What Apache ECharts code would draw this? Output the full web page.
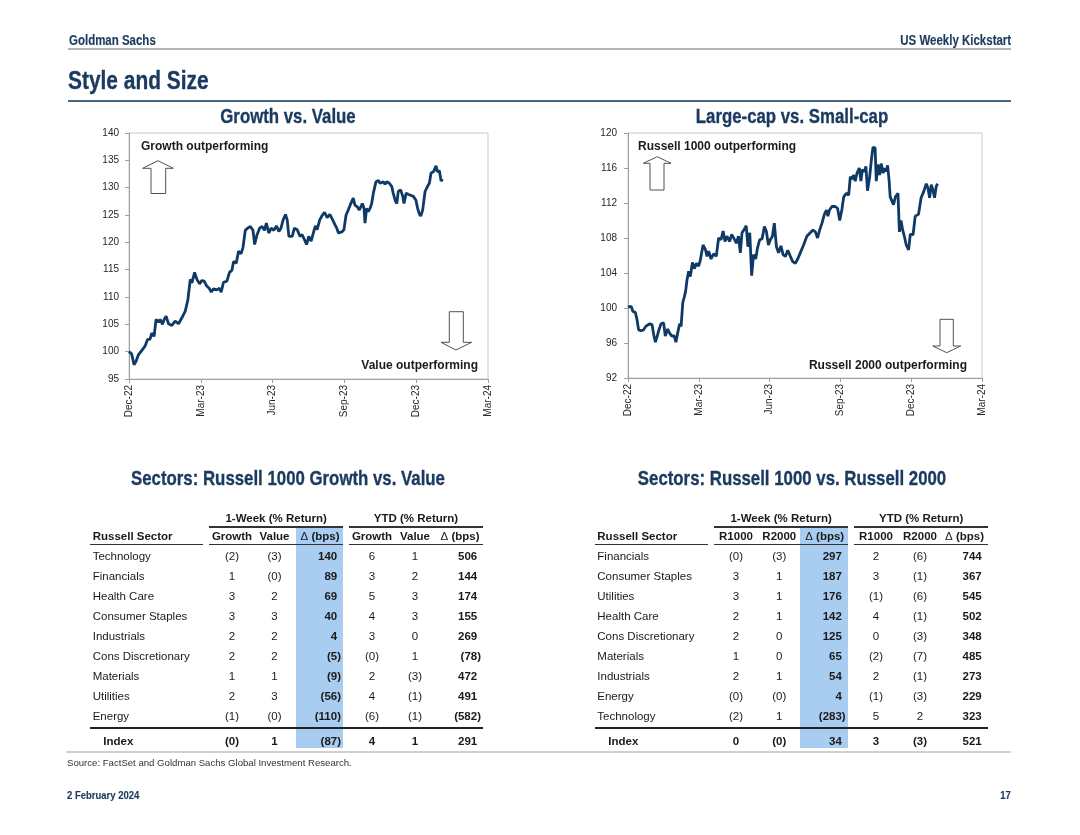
<!DOCTYPE html>
<html>
<head>
<meta charset="utf-8">
<script src="https://cdn.jsdelivr.net/npm/echarts@6/dist/echarts.min.js"></script>
<style>
  html, body { margin:0; padding:0; background:#fff; }
  #page { position:relative; width:1080px; height:835px; overflow:hidden; background:#fff; }
  #chart { position:absolute; left:0; top:0; width:1080px; height:835px; }
  .t { position:absolute; white-space:nowrap; line-height:1.15; font-family:"Liberation Sans", Arial, sans-serif; color:#1a1a1a; }
  .narrow { font-family:"Liberation Sans", Arial, sans-serif; font-weight:bold; color:#1b3a5f; -webkit-text-stroke:0.35px #1b3a5f; }
  .narrow.small { -webkit-text-stroke:0.15px #1b3a5f; }
  .hl { position:absolute; }
</style>
</head>
<body>
<div id="page">
  <div id="chart"></div>
  <div id="overlay"></div>
</div>
<script>
// ---------------- DATA ----------------
const xTickLabels = ['Dec-22','Mar-23','Jun-23','Sep-23','Dec-23','Mar-24'];

// Growth vs. Value : x = months after the Dec-22 tick, y = index level
const gvMonths = [0.00,0.11,0.21,0.29,0.39,0.53,0.67,0.77,0.88,0.95,1.05,1.13,1.23,1.30,1.40,1.47,1.55,1.65,1.79,1.93,
  2.07,2.21,2.35,2.46,2.56,2.63,2.74,2.84,2.95,3.04,3.14,3.25,3.35,3.44,3.53,3.67,3.78,3.85,3.95,4.09,
  4.20,4.30,4.37,4.48,4.58,4.68,4.76,4.86,4.96,5.07,5.18,5.25,5.35,5.46,5.56,5.66,5.74,5.84,5.94,6.05,
  6.16,6.26,6.35,6.44,6.54,6.61,6.68,6.82,6.91,7.03,7.14,7.23,7.33,7.42,7.51,7.61,7.72,7.79,7.86,7.97,
  8.07,8.17,8.28,8.39,8.51,8.61,8.68,8.75,8.89,8.98,9.07,9.16,9.24,9.31,9.37,9.44,9.54,9.62,9.68,9.75,
  9.82,9.86,9.93,10.00,10.07,10.14,10.21,10.32,10.42,10.49,10.56,10.63,10.70,10.77,10.88,10.98,11.04,11.12,11.19,11.25,
  11.35,11.44,11.49,11.58,11.71,11.88,11.99,12.06,12.13,12.19,12.27,12.37,12.47,12.55,12.62,12.72,12.83,12.88,12.97,13.04,13.10];
const gvLevels = [100,99.6,97.6,98.2,99.4,100.2,101,102.2,102.3,103.4,102.8,105.9,105.4,105.9,105,105.9,106.5,105.1,104.8,105.6,
  105.1,106.2,107.4,109.5,113.2,112.6,114.5,113.2,112.4,113,112.9,112,111.6,110.9,111.5,111.3,111.6,110.9,112.7,112.9,
  114.5,114.9,116.5,116.2,118.4,117.9,119,122.2,122.6,122.9,122.2,119.6,121.4,122.6,122.9,122.2,123.5,121.7,122.6,122.2,
  123,122,122.6,124.1,125.1,124.1,121.1,121.1,122.6,122.3,121.1,121.4,120.5,119.6,121.1,120.2,122,123,122.3,124.1,
  124.9,125.5,124.5,125.1,124.1,123.2,122.6,121.7,121.9,122.3,125,125.9,126.8,126.5,128.1,126.8,126.5,125.9,126.2,127.1,
  126.2,123.5,126.2,125.6,126.2,127.1,129,131.1,131.3,130.8,130.5,131.1,130.6,131.1,130.8,130.2,129,127.7,127.1,129.3,
  129.6,128.4,127.1,129,128.7,128.4,127.7,126.2,125.2,124.8,125.9,129.3,130.2,130.8,132.7,132.9,134,132.9,133.1,131.2,131.6];

// Large-cap vs. Small-cap
const lsMonths = [0.00,0.13,0.21,0.31,0.38,0.45,0.55,0.66,0.75,0.83,0.92,1.02,1.09,1.16,1.23,1.31,1.40,1.51,1.58,1.68,
  1.77,1.86,1.96,2.03,2.10,2.19,2.25,2.32,2.39,2.44,2.50,2.57,2.64,2.73,2.81,2.90,2.99,3.06,3.18,3.28,
  3.35,3.42,3.52,3.63,3.74,3.84,3.94,4.03,4.11,4.19,4.31,4.39,4.48,4.59,4.68,4.76,4.83,4.93,5.01,5.08,
  5.16,5.24,5.32,5.41,5.49,5.58,5.68,5.78,5.86,5.95,6.03,6.12,6.20,6.29,6.38,6.48,6.57,6.67,6.77,6.88,
  6.98,7.09,7.19,7.30,7.44,7.58,7.72,7.84,7.94,8.03,8.12,8.22,8.32,8.41,8.47,8.54,8.64,8.78,8.88,8.97,
  9.06,9.14,9.25,9.35,9.42,9.49,9.56,9.63,9.70,9.80,9.87,9.93,10.03,10.08,10.15,10.24,10.32,10.38,10.47,10.52,
  10.59,10.66,10.73,10.81,10.87,10.94,11.00,11.06,11.11,11.19,11.25,11.33,11.40,11.44,11.50,11.57,11.64,11.71,11.79,11.89,
  11.96,12.08,12.17,12.25,12.31,12.42,12.53,12.64,12.71,12.78,12.85,12.92,12.99,13.06,13.12];
const lsLevels = [100.1,100.2,99.6,99.5,98.7,97.5,97.4,97.5,97.9,97.8,98.2,98.1,96.95,96.1,96.7,97.5,98.2,98.3,96.8,97.6,
  97.1,96.8,96.8,96.1,97.1,98.2,97.9,100.6,101.3,101.9,103.2,104.2,103.6,105.2,104.5,105.1,104.8,105.4,107.2,106.7,
  105.9,106.5,105.6,106.2,105.9,108,107.8,108.8,107.6,108.2,107.6,108.4,108,107.4,108.2,106.3,108.6,109,109.4,107,
  108.6,103.7,106.1,105.6,106.9,107.8,107.9,109.3,108.8,107.2,107.8,108.2,109.7,107,106.3,107.1,106.1,105.9,106.6,105.9,
  105.3,105.1,105.6,106.3,107.2,108.2,108.6,108.9,108.7,108,108.9,109.7,110.7,111.2,110.5,111.2,111.6,111.6,111.4,110,
  111.2,112.7,113.1,112.9,115,114.7,115.2,114.5,115.4,116,114.5,115.8,115.6,116.2,113.4,115,117.1,118.35,118.3,114.5,
  116.4,115.2,116.5,115.4,116,115.6,116.3,114.7,112.7,112.9,111.8,112.7,112.6,113.1,108.7,110,108.9,108.2,107.2,106.65,
  108.4,108.4,110.5,110.3,110.7,112.6,113.3,114.2,113.7,112.6,114.1,113.5,112.6,113.9,114.2];

// Sector table 1: Russell 1000 Growth vs. Value  (-0 shown as "(0)")
const gvSectors   = ['Technology','Financials','Health Care','Consumer Staples','Industrials','Cons Discretionary','Materials','Utilities','Energy'];
const gvWkGrowth  = [-2, 1, 3, 3, 2, 2, 1, 2, -1];
const gvWkValue   = [-3, -0, 2, 3, 2, 2, 1, 3, -0];
const gvWkDelta   = [140, 89, 69, 40, 4, -5, -9, -56, -110];
const gvYtdGrowth = [6, 3, 5, 4, 3, -0, 2, 4, -6];
const gvYtdValue  = [1, 2, 3, 3, 0, 1, -3, -1, -1];
const gvYtdDelta  = [506, 144, 174, 155, 269, -78, 472, 491, -582];
const gvIndex     = [-0, 1, -87, 4, 1, 291];

// Sector table 2: Russell 1000 vs. Russell 2000
const lsSectors   = ['Financials','Consumer Staples','Utilities','Health Care','Cons Discretionary','Materials','Industrials','Energy','Technology'];
const lsWkR1000   = [-0, 3, 3, 2, 2, 1, 2, -0, -2];
const lsWkR2000   = [-3, 1, 1, 1, 0, 0, 1, -0, 1];
const lsWkDelta   = [297, 187, 176, 142, 125, 65, 54, 4, -283];
const lsYtdR1000  = [2, 3, -1, 4, 0, -2, 2, -1, 5];
const lsYtdR2000  = [-6, -1, -6, -1, -3, -7, -1, -3, 2];
const lsYtdDelta  = [744, 367, 545, 502, 348, 485, 273, 229, 323];
const lsIndex     = [0, -0, 34, 3, -3, 521];

// ---------------- TEXT HELPERS ----------------
const ov = document.getElementById('overlay');
function txt(s, x, y, o) {
  o = o || {};
  const d = document.createElement('div');
  d.className = 't' + (o.cls ? ' ' + o.cls : '');
  d.innerHTML = s;
  d.style.top = y + 'px';
  let tx = '0', origin = '0% 50%';
  if (o.align === 'center') { d.style.left = x + 'px'; tx = '-50%'; origin = '50% 50%'; }
  else if (o.align === 'right') { d.style.right = (1080 - x) + 'px'; origin = '100% 50%'; }
  else { d.style.left = x + 'px'; }
  const sx = (o.cls || '').indexOf('narrow') >= 0 ? ' scaleX(0.82)' : '';
  d.style.transformOrigin = origin;
  d.style.transform = 'translate(' + tx + ',-50%)' + sx;
  if (o.size) d.style.fontSize = o.size + 'px';
  if (o.bold) d.style.fontWeight = 'bold';
  if (o.color) d.style.color = o.color;
  if (o.pr) d.style.paddingRight = o.pr;
  ov.appendChild(d);
  return d;
}
function rect(x1, y1, x2, y2, color) {
  const d = document.createElement('div');
  d.className = 'hl';
  d.style.left = x1 + 'px'; d.style.top = y1 + 'px';
  d.style.width = (x2 - x1) + 'px'; d.style.height = (y2 - y1) + 'px';
  d.style.background = color;
  ov.appendChild(d);
}
function fmt(v) { return (v < 0 || Object.is(v, -0)) ? '(' + Math.abs(v) + ')' : String(v); }
function isNeg(v) { return v < 0 || Object.is(v, -0); }

// ---------------- PAGE TEXT ----------------
txt('Goldman Sachs', 69, 40, {cls:'narrow small', size:14});
txt('US Weekly Kickstart', 1011, 40, {cls:'narrow small', size:14, align:'right'});
rect(68, 48, 1011, 50, '#b4b4b4');
txt('Style and Size', 68, 81, {cls:'narrow', size:25.5});
rect(68, 100, 1011, 101.5, '#4a6584');
txt('Growth vs. Value', 288, 116, {cls:'narrow', size:20.5, align:'center'});
txt('Large-cap vs. Small-cap', 792, 116, {cls:'narrow', size:20.5, align:'center'});

txt('Growth outperforming', 141, 147, {size:12, bold:true});
txt('Value outperforming', 478, 365.5, {size:12, bold:true, align:'right'});
txt('Russell 1000 outperforming', 638, 147, {size:12, bold:true});
txt('Russell 2000 outperforming', 967, 365.5, {size:12, bold:true, align:'right'});

txt('Sectors: Russell 1000 Growth vs. Value', 288, 478, {cls:'narrow', size:20.5, align:'center'});
txt('Sectors: Russell 1000 vs. Russell 2000', 792, 478, {cls:'narrow', size:20.5, align:'center'});

txt('Source: FactSet and Goldman Sachs Global Investment Research.', 67, 762.5, {size:9.6, color:'#333'});
txt('2 February 2024', 67, 795, {cls:'narrow small', size:11.6});
txt('17', 1011, 795, {cls:'narrow small', size:11.6, align:'right'});
rect(66, 751, 1011, 752.5, '#d0d0d0');

// ---------------- TABLES ----------------
function drawTable(T) {
  const L = T.layout;
  rect(L.hl[0], 526.7, L.hl[1], 748.3, '#a9cdf0');
  txt('1-Week (% Return)', (L.g1[0] + L.g1[1]) / 2, 519.3, {size:11.5, bold:true, align:'center'});
  txt('YTD (% Return)', (L.g2[0] + L.g2[1]) / 2, 519.3, {size:11.5, bold:true, align:'center'});
  rect(L.g1[0], 526, L.g1[1], 527.6, '#333');
  rect(L.g2[0], 526, L.g2[1], 527.6, '#333');
  rect(L.s[0], 543.6, L.s[1], 545.2, '#333');
  rect(L.g1[0], 543.6, L.g1[1], 545.2, '#333');
  rect(L.g2[0], 543.6, L.g2[1], 545.2, '#333');
  rect(L.s[0], 727.3, L.g2[1], 729.5, '#222');
  txt('Russell Sector', L.lab, 537.3, {size:11.5, bold:true});
  txt(T.heads[0], L.c[0], 537.3, {size:11.5, bold:true, align:'center'});
  txt(T.heads[1], L.c[1], 537.3, {size:11.5, bold:true, align:'center'});
  txt('<span style="font-weight:normal">&#916;</span> (bps)', L.d[0] - 1.5, 537.3, {size:11.5, bold:true, align:'right'});
  txt(T.heads[0], L.c[2], 537.3, {size:11.5, bold:true, align:'center'});
  txt(T.heads[1], L.c[3], 537.3, {size:11.5, bold:true, align:'center'});
  txt('<span style="font-weight:normal">&#916;</span> (bps)', L.d[1] - 1.5, 537.3, {size:11.5, bold:true, align:'right'});
  function valueRow(y, vals, allBold) {
    const cols = [[L.c[0],'c'],[L.c[1],'c'],[L.d[0],'r'],[L.c[2],'c'],[L.c[3],'c'],[L.d[1],'r']];
    vals.forEach((v, j) => {
      const [x, a] = cols[j];
      const bold = allBold || a === 'r';
      if (a === 'c') txt(fmt(v), x, y, {size:11.5, bold:bold, align:'center'});
      else txt(fmt(v), x, y, {size:11.5, bold:true, align:'right', pr: isNeg(v) ? '0' : '0.333em'});
    });
  }
  T.sectors.forEach((s, i) => {
    const y = 557.3 + 20 * i;
    txt(s, L.lab, y, {size:11.5});
    valueRow(y, [T.a[i], T.b[i], T.dw[i], T.ya[i], T.yb[i], T.dy[i]], false);
  });
  txt('Index', L.idx, 741.7, {size:11.5, bold:true});
  valueRow(741.7, T.index, true);
}

drawTable({
  heads:['Growth','Value'], sectors:gvSectors,
  a:gvWkGrowth, b:gvWkValue, dw:gvWkDelta, ya:gvYtdGrowth, yb:gvYtdValue, dy:gvYtdDelta, index:gvIndex,
  layout:{lab:92.7, idx:103.3, s:[90,203.3], g1:[209,343.3], g2:[349,483], hl:[295.7,343.3],
          c:[232,274.5,372,415], d:[341,481]}
});
drawTable({
  heads:['R1000','R2000'], sectors:lsSectors,
  a:lsWkR1000, b:lsWkR2000, dw:lsWkDelta, ya:lsYtdR1000, yb:lsYtdR2000, dy:lsYtdDelta, index:lsIndex,
  layout:{lab:597.3, idx:608.3, s:[595,707.7], g1:[714,848.3], g2:[854,988.3], hl:[800,848.3],
          c:[736,779.3,876,920], d:[845.7,985.5]}
});

// ---------------- CHARTS ----------------
const chart = echarts.init(document.getElementById('chart'), null, {renderer:'canvas', width:1080, height:835});
const FONT = '"Liberation Sans", Arial, sans-serif';
const axisGray = '#a0a0a0';
function xAx(gi) {
  return {type:'value', gridIndex:gi, min:0, max:15, interval:3,
    axisLine:{show:true, lineStyle:{color:axisGray, width:1}},
    axisTick:{show:true, length:4, lineStyle:{color:axisGray}},
    splitLine:{show:false},
    axisLabel:{rotate:90, margin:6, fontFamily:FONT, fontSize:10, color:'#262626',
      formatter: v => xTickLabels[Math.round(v / 3)]}};
}
function yAx(gi, mn, mx, iv, margin) {
  return {type:'value', gridIndex:gi, min:mn, max:mx, interval:iv,
    axisLine:{show:true, lineStyle:{color:axisGray, width:1}},
    axisTick:{show:true, length:4, lineStyle:{color:axisGray}},
    splitLine:{show:false},
    axisLabel:{margin:margin, fontFamily:FONT, fontSize:10, color:'#262626'}};
}
function upArrow(cx, top, base, wl, wr, sl, sr, bottom) {
  return {type:'polygon', silent:true, z:10,
    shape:{points:[[cx,top],[wr,base],[sr,base],[sr,bottom],[sl,bottom],[sl,base],[wl,base]]},
    style:{fill:'#fff', stroke:'#505050', lineWidth:1}};
}
function downArrow(cx, tip, base, wl, wr, sl, sr, top) {
  return {type:'polygon', silent:true, z:10,
    shape:{points:[[cx,tip],[wr,base],[sr,base],[sr,top],[sl,top],[sl,base],[wl,base]]},
    style:{fill:'#fff', stroke:'#505050', lineWidth:1}};
}
const lineColor = '#0f3a66';
chart.setOption({
  animation:false,
  grid:[
    {left:129, top:133, width:359, height:246, show:true, borderColor:'#c8c8c8', borderWidth:1, backgroundColor:'rgba(0,0,0,0)'},
    {left:628, top:133, width:354, height:245, show:true, borderColor:'#c8c8c8', borderWidth:1, backgroundColor:'rgba(0,0,0,0)'}
  ],
  xAxis:[xAx(0), xAx(1)],
  yAxis:[yAx(0, 95, 140, 5, 10), yAx(1, 92, 120, 4, 11)],
  series:[
    {type:'line', xAxisIndex:0, yAxisIndex:0, showSymbol:false, symbol:'none',
      data: gvMonths.map((m, i) => [m, gvLevels[i]]),
      lineStyle:{color:lineColor, width:2.8}},
    {type:'line', xAxisIndex:1, yAxisIndex:1, showSymbol:false, symbol:'none',
      data: lsMonths.map((m, i) => [m, lsLevels[i]]),
      lineStyle:{color:lineColor, width:2.8}}
  ],
  graphic:[
    upArrow(158, 160.7, 168.3, 142.7, 173.3, 151, 165.7, 193.5),
    downArrow(456, 350, 342.3, 441, 471.7, 449.3, 463.3, 311.7),
    upArrow(657.3, 156.7, 163.3, 643.3, 671, 650, 664, 190),
    downArrow(946.7, 352.7, 346, 932.7, 960.7, 940, 953.3, 319.3)
  ]
});
</script>
</body>
</html>
